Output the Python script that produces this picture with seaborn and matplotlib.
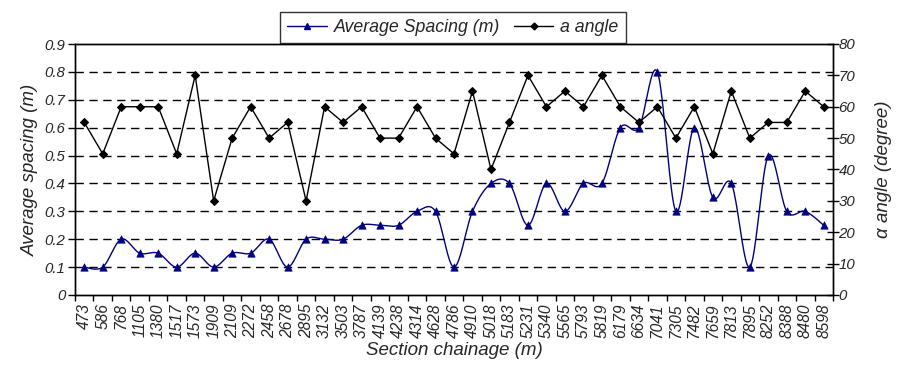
import numpy as np
import pandas as pd
import matplotlib
matplotlib.use("Agg")
import matplotlib.pyplot as plt
import seaborn as sns
from matplotlib.lines import Line2D

chainage = ["473", "586", "768", "1105", "1380", "1517", "1573", "1909", "2109", "2272",
            "2458", "2678", "2895", "3132", "3503", "3787", "4139", "4238", "4314", "4628",
            "4786", "4910", "5018", "5183", "5231", "5340", "5565", "5793", "5819", "6179",
            "6634", "7041", "7305", "7482", "7659", "7813", "7895", "8252", "8388", "8480",
            "8598"]
spacing = [0.10, 0.10, 0.20, 0.15, 0.15, 0.10, 0.15, 0.10, 0.15, 0.15,
           0.20, 0.10, 0.20, 0.20, 0.20, 0.25, 0.25, 0.25, 0.30, 0.30,
           0.10, 0.30, 0.40, 0.40, 0.25, 0.40, 0.30, 0.40, 0.40, 0.60,
           0.60, 0.80, 0.30, 0.60, 0.35, 0.40, 0.10, 0.50, 0.30, 0.30,
           0.25]
angle = [55, 45, 60, 60, 60, 45, 70, 30, 50, 60,
         50, 55, 30, 60, 55, 60, 50, 50, 60, 50,
         45, 65, 40, 55, 70, 60, 65, 60, 70, 60,
         55, 60, 50, 60, 45, 65, 50, 55, 55, 65,
         60]

sns.set_theme(style="white")
plt.rcParams["font.family"] = ["Liberation Sans", "DejaVu Sans"]
plt.rcParams["font.style"] = "italic"

BLUE = "#000080"


def smooth(xs, ys, n=20):
    """Bezier smoothing through every point (Catmull-Rom style tangents)."""
    xs = np.asarray(xs, float)
    ys = np.asarray(ys, float)
    px = np.concatenate([[xs[0]], xs, [xs[-1]]])
    py = np.concatenate([[ys[0]], ys, [ys[-1]]])
    ox, oy = [], []
    t = np.linspace(0, 1, n, endpoint=False)
    for i in range(1, len(px) - 2):
        p0 = np.array([px[i], py[i]])
        p3 = np.array([px[i + 1], py[i + 1]])
        c1 = p0 + (np.array([px[i + 1], py[i + 1]]) - np.array([px[i - 1], py[i - 1]])) / 6
        c2 = p3 - (np.array([px[i + 2], py[i + 2]]) - np.array([px[i], py[i]])) / 6
        b = ((1 - t) ** 3)[:, None] * p0 + (3 * (1 - t) ** 2 * t)[:, None] * c1 \
            + (3 * (1 - t) * t ** 2)[:, None] * c2 + (t ** 3)[:, None] * p3
        ox.extend(b[:, 0]); oy.extend(b[:, 1])
    ox.append(xs[-1]); oy.append(ys[-1])
    return np.array(ox), np.array(oy)


idx = np.arange(len(chainage))
df = pd.DataFrame({"pos": idx, "spacing": spacing, "angle": angle})
sx, sy = smooth(idx, spacing)
curve = pd.DataFrame({"pos": sx, "spacing": sy})

fig = plt.figure(figsize=(9.01, 3.70), dpi=100)
ax = fig.add_axes([75 / 901, 75 / 370, 758 / 901, 251 / 370])
ax2 = ax.twinx()

# dashed horizontal gridlines at every 0.1
for g in np.arange(0.1, 0.85, 0.1):
    ax.axhline(g, color="black", lw=1.0, ls=(0, (6, 4)), zorder=0)

sns.lineplot(data=curve, x="pos", y="spacing", ax=ax, color=BLUE, lw=1.0,
             sort=False, estimator=None, zorder=3)
sns.scatterplot(data=df, x="pos", y="spacing", ax=ax, color=BLUE, marker="^",
                s=28, edgecolor=BLUE, linewidth=0.5, zorder=4)
sns.lineplot(data=df, x="pos", y="angle", ax=ax2, color="black", lw=1.0,
             marker="D", markersize=4, markeredgecolor="black", estimator=None, zorder=3)

ax.set_xlim(-0.5, len(chainage) - 0.5)
ax.set_ylim(0, 0.9)
ax2.set_ylim(0, 80)
ax.set_yticks(np.round(np.arange(0, 0.91, 0.1), 1))
ax.set_yticklabels(["0"] + [f"{v:.1f}" for v in np.arange(0.1, 0.91, 0.1)])
ax2.set_yticks(np.arange(0, 81, 10))

ax.set_xticks(idx)
ax.set_xticklabels(chainage, rotation=90, fontsize=11.2, style="italic")
ax.set_xticks(np.arange(-0.5, len(chainage), 1), minor=True)
ax.tick_params(axis="x", which="major", length=0, pad=6)
ax.tick_params(axis="x", which="minor", length=4, width=1, color="black", direction="out", bottom=True)
ax.tick_params(axis="y", length=5, width=1, color="black", direction="out", left=True,
               labelsize=10.8, pad=2)
ax2.tick_params(axis="y", length=8, width=1, color="black", direction="inout", right=True,
                labelsize=10.8, pad=0)
for lab in ax.get_yticklabels() + ax2.get_yticklabels():
    lab.set_fontstyle("italic")

for a in (ax, ax2):
    for s in a.spines.values():
        s.set_color("black")
        s.set_linewidth(1.0)
    a.spines["top"].set_visible(True)

ax.set_xlabel("Section chainage (m)", fontsize=13.5, style="italic", labelpad=3)
ax.set_ylabel("Average spacing (m)", fontsize=13.5, style="italic", labelpad=4)
ax2.set_ylabel("α angle (degree)", fontsize=13.5, style="italic", labelpad=14)

handles = [Line2D([], [], color=BLUE, lw=1.0, marker="^", markersize=5),
           Line2D([], [], color="black", lw=1.0, marker="D", markersize=3.5)]
leg = fig.legend(handles, ["Average Spacing (m)", "a angle"], loc="upper center",
                 bbox_to_anchor=(453 / 901, 1 - 3 / 370), ncol=2, frameon=True,
                 fancybox=False, edgecolor="black", fontsize=12.8, handlelength=2.2,
                 columnspacing=0.8, handletextpad=0.4, borderpad=0.4)
leg.get_frame().set_linewidth(1.0)
for t in leg.get_texts():
    t.set_fontstyle("italic")

fig.savefig("out.png", dpi=100)
